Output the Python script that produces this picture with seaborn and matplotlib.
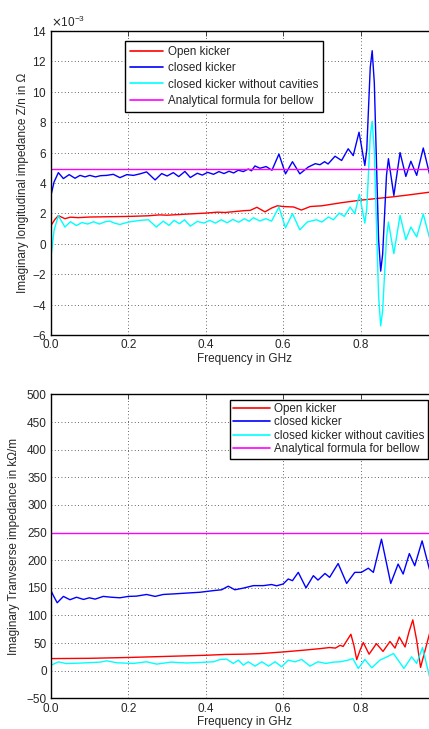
import matplotlib
matplotlib.use("Agg")
import matplotlib.pyplot as plt
import matplotlib.ticker as mticker
import pandas as pd
import seaborn as sns

# ---- top panel: imaginary longitudinal impedance Z/n (units of 1e-3 Ohm) ----
long_open_f = [0.000, 0.010, 0.019, 0.036, 0.050, 0.070, 0.100, 0.150, 0.200, 0.250,
               0.280, 0.300, 0.350, 0.400, 0.430, 0.450, 0.500, 0.515, 0.532, 0.553,
               0.570, 0.585, 0.600, 0.627, 0.647, 0.670, 0.700, 0.750, 0.800, 0.850,
               0.884, 0.920, 0.950, 0.980]
long_open_z = [1.20, 1.60, 1.85, 1.65, 1.75, 1.72, 1.76, 1.78, 1.80, 1.84,
               1.90, 1.88, 1.95, 2.02, 2.08, 2.06, 2.18, 2.20, 2.40, 2.10,
               2.35, 2.50, 2.45, 2.42, 2.22, 2.45, 2.50, 2.70, 2.87, 3.00,
               3.09, 3.20, 3.30, 3.40]

long_closed_f = [0.000, 0.008, 0.019, 0.032, 0.047, 0.062, 0.075, 0.088, 0.100, 0.115,
                 0.128, 0.144, 0.161, 0.178, 0.196, 0.213, 0.230, 0.247, 0.269, 0.286,
                 0.300, 0.316, 0.330, 0.346, 0.360, 0.378, 0.391, 0.405, 0.420, 0.434,
                 0.447, 0.460, 0.472, 0.484, 0.497, 0.510, 0.518, 0.527, 0.540, 0.556,
                 0.571, 0.589, 0.606, 0.624, 0.643, 0.665, 0.683, 0.695, 0.707, 0.716,
                 0.734, 0.751, 0.768, 0.781, 0.796, 0.811, 0.816, 0.8205, 0.825, 0.830,
                 0.8355, 0.841, 0.8465, 0.852, 0.857, 0.862, 0.867, 0.872, 0.886, 0.902,
                 0.917, 0.930, 0.945, 0.962, 0.980]
long_closed_z = [3.20, 4.07, 4.68, 4.29, 4.55, 4.31, 4.50, 4.40, 4.50, 4.40,
                 4.48, 4.50, 4.57, 4.35, 4.55, 4.50, 4.60, 4.73, 4.20, 4.62,
                 4.46, 4.68, 4.42, 4.76, 4.36, 4.64, 4.52, 4.70, 4.57, 4.75,
                 4.62, 4.77, 4.66, 4.84, 4.75, 4.92, 4.80, 5.12, 4.97, 5.08,
                 4.84, 5.90, 4.60, 5.40, 4.60, 5.05, 5.27, 5.20, 5.40, 5.25,
                 5.76, 5.48, 6.25, 5.80, 7.34, 5.15, 6.20, 8.90, 11.6, 12.7,
                 10.6, 5.45, 0.30, -1.80, -0.70, 1.90, 4.50, 5.60, 3.18, 6.00,
                 4.43, 5.43, 4.50, 6.30, 4.40]

long_nocav_f = [0.000, 0.008, 0.019, 0.036, 0.050, 0.066, 0.080, 0.095, 0.110, 0.125,
                0.140, 0.152, 0.165, 0.178, 0.200, 0.230, 0.252, 0.272, 0.290, 0.305,
                0.318, 0.332, 0.345, 0.360, 0.378, 0.395, 0.410, 0.425, 0.440, 0.455,
                0.470, 0.485, 0.500, 0.512, 0.523, 0.540, 0.555, 0.570, 0.589, 0.606,
                0.624, 0.643, 0.662, 0.686, 0.700, 0.717, 0.730, 0.745, 0.758, 0.773,
                0.785, 0.797, 0.811, 0.816, 0.8205, 0.825, 0.830, 0.8355, 0.841, 0.8465,
                0.852, 0.857, 0.862, 0.867, 0.872, 0.886, 0.902, 0.917, 0.930, 0.945,
                0.962, 0.980]
long_nocav_z = [-0.85, 0.90, 1.85, 1.10, 1.45, 1.20, 1.40, 1.30, 1.45, 1.30,
                1.45, 1.49, 1.35, 1.27, 1.43, 1.54, 1.58, 1.10, 1.49, 1.21,
                1.54, 1.32, 1.58, 1.16, 1.47, 1.36, 1.54, 1.36, 1.58, 1.38,
                1.60, 1.42, 1.65, 1.48, 1.71, 1.50, 1.65, 1.49, 2.42, 1.05,
                1.98, 0.92, 1.43, 1.58, 1.43, 1.76, 1.58, 2.02, 1.80, 2.42,
                1.98, 3.25, 1.36, 2.30, 4.70, 7.10, 8.06, 6.10, 1.33, -3.40,
                -5.40, -4.40, -2.00, 0.40, 1.43, -0.65, 1.87, 0.27, 1.10, 0.45,
                1.96, 0.20]

long_bellow_f = [0.0, 1.0]
long_bellow_z = [4.93, 4.93]

# ---- bottom panel: imaginary transverse impedance (kOhm/m) ----
tr_open_f = [0.000, 0.100, 0.200, 0.300, 0.400, 0.450, 0.500, 0.540, 0.600, 0.650,
             0.695, 0.720, 0.735, 0.747, 0.755, 0.765, 0.775, 0.783, 0.790, 0.798,
             0.807, 0.822, 0.841, 0.858, 0.876, 0.889, 0.900, 0.915, 0.925, 0.935,
             0.945, 0.955, 0.966, 0.980]
tr_open_z = [22, 22.5, 24, 26, 28, 29.5, 30, 31, 34, 37,
             40, 42, 41, 46, 44, 55, 66, 45, 20, 36,
             51, 30, 49, 35, 53, 41, 61, 43, 70, 92,
             55, 6, 35, 72]

tr_closed_f = [0.000, 0.006, 0.016, 0.032, 0.049, 0.066, 0.084, 0.099, 0.114, 0.135,
               0.156, 0.178, 0.200, 0.221, 0.247, 0.269, 0.290, 0.316, 0.350, 0.385,
               0.420, 0.441, 0.458, 0.475, 0.497, 0.523, 0.549, 0.570, 0.583, 0.600,
               0.613, 0.624, 0.639, 0.659, 0.678, 0.690, 0.708, 0.720, 0.742, 0.764,
               0.785, 0.802, 0.820, 0.833, 0.854, 0.878, 0.897, 0.910, 0.926, 0.940,
               0.959, 0.980]
tr_closed_z = [145, 136, 123, 134.5, 128.5, 133, 129, 132, 129.6, 134.5,
               133, 132, 134.5, 135, 138, 134.5, 138, 139, 140.5, 142,
               145, 146.5, 153, 146.5, 149.5, 154, 154, 156, 153.7, 157,
               166, 163, 178, 150, 172, 164, 176, 169, 194, 158,
               178, 178, 185.5, 178, 238, 158, 193, 175, 212, 190,
               235, 178]

tr_nocav_f = [0.000, 0.019, 0.040, 0.080, 0.127, 0.144, 0.170, 0.213, 0.247, 0.273,
              0.310, 0.350, 0.385, 0.420, 0.437, 0.454, 0.471, 0.484, 0.497, 0.510,
              0.527, 0.545, 0.562, 0.579, 0.596, 0.613, 0.630, 0.648, 0.669, 0.690,
              0.710, 0.730, 0.747, 0.768, 0.780, 0.794, 0.811, 0.829, 0.850, 0.872,
              0.885, 0.912, 0.932, 0.945, 0.960, 0.980]
tr_nocav_z = [10, 16, 13, 14, 15.6, 18, 14.4, 13.2, 16.2, 12,
              15.6, 14, 15, 16.2, 20.4, 21, 13.2, 19.2, 10.2, 16.2,
              8.4, 16.2, 8.4, 16.2, 7.2, 19.2, 16.2, 20.4, 8.4, 16.2,
              13.2, 15.6, 16.2, 19.2, 22, 4.2, 20.4, 5.4, 19.2, 26.4,
              31.2, 4.2, 25.2, 13.2, 42, -16]

tr_bellow_f = [0.0, 1.0]
tr_bellow_z = [249, 249]

series_names = ["Open kicker", "closed kicker",
                "closed kicker without cavities", "Analytical formula for bellow"]
series_colors = ["#ff0000", "#0000ff", "#00ffff", "#ff00ff"]
x_ticks = [0, 0.2, 0.4, 0.6, 0.8]

FS = 8.5


def long_form(pairs, scale=1.0):
    frames = []
    for name, (f, z) in zip(series_names, pairs):
        frames.append(pd.DataFrame({"freq": f, "value": [v * scale for v in z], "series": name}))
    return pd.concat(frames, ignore_index=True)


def style_axes(ax, yticks, ylim):
    ax.set_xlim(0, 1.0)
    ax.set_ylim(*ylim)
    ax.set_xticks(x_ticks)
    ax.set_yticks(yticks)
    ax.grid(True, color="0.2", linestyle=(0, (1, 3)), linewidth=0.6)
    ax.tick_params(direction="in", top=True, right=True, length=3.5, width=0.6,
                   labelsize=FS, pad=3)
    for s in ax.spines.values():
        s.set_linewidth(1.0)
        s.set_color("black")
    ax.set_xlabel("Frequency in GHz", fontsize=FS, labelpad=1)


sns.set_style("white")
plt.rcParams["font.family"] = ["Liberation Sans", "DejaVu Sans"]
plt.rcParams["axes.unicode_minus"] = True

fig = plt.figure(figsize=(4.29, 7.29), dpi=100)
ax1 = fig.add_axes([0.1189, 0.5405, 0.902, 0.417])
ax2 = fig.add_axes([0.1189, 0.042, 0.902, 0.417])

top = long_form([(long_open_f, long_open_z), (long_closed_f, long_closed_z),
                 (long_nocav_f, long_nocav_z), (long_bellow_f, long_bellow_z)], scale=1e-3)
bottom = long_form([(tr_open_f, tr_open_z), (tr_closed_f, tr_closed_z),
                    (tr_nocav_f, tr_nocav_z), (tr_bellow_f, tr_bellow_z)])

for ax, df in [(ax1, top), (ax2, bottom)]:
    sns.lineplot(data=df, x="freq", y="value", hue="series", hue_order=series_names,
                 palette=series_colors, estimator=None, sort=False, linewidth=1.0, ax=ax)

style_axes(ax1, [v * 1e-3 for v in range(-6, 15, 2)], (-6e-3, 14e-3))
fmt = mticker.ScalarFormatter(useMathText=True)
fmt.set_powerlimits((-3, -3))
ax1.yaxis.set_major_formatter(fmt)
ax1.yaxis.get_offset_text().set_fontsize(FS)
ax1.set_ylabel("Imaginary longitudinal impedance Z/n in Ω", fontsize=FS)
ax1.yaxis.set_label_coords(-0.058, 0.5)

style_axes(ax2, list(range(-50, 501, 50)), (-50, 500))
ax2.set_ylabel("Imaginary Tranvserse impedance in kΩ/m", fontsize=FS)
ax2.yaxis.set_label_coords(-0.08, 0.5)

legend_kw = dict(fontsize=8.4, frameon=True, fancybox=False, framealpha=1,
                 edgecolor="black", loc="upper left",
                 handletextpad=0.4, borderaxespad=0)
h, l = ax1.get_legend_handles_labels()
leg1 = ax1.legend(h, l, bbox_to_anchor=(0.191, 0.967), labelspacing=0.38,
                  borderpad=0.4, handlelength=2.9, **legend_kw)
h, l = ax2.get_legend_handles_labels()
leg2 = ax2.legend(h, l, bbox_to_anchor=(0.4625, 0.983), labelspacing=0.12,
                  borderpad=0.3, handlelength=3.1, **legend_kw)
for leg in (leg1, leg2):
    leg.get_frame().set_linewidth(1.0)
    for line in leg.get_lines():
        line.set_linewidth(1.2)

fig.savefig("out.png", dpi=100)
